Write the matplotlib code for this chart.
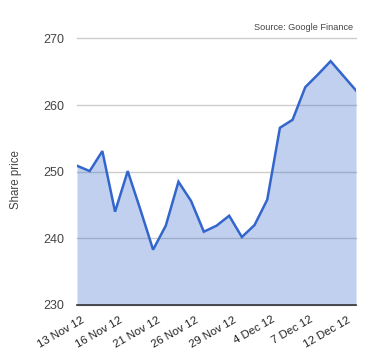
import matplotlib
matplotlib.use("Agg")
import matplotlib.pyplot as plt
import matplotlib.transforms as mtransforms

# share price, one value per trading day
prices = [250.9, 250.1, 253.1, 244.0, 250.1, 244.3, 238.3, 241.9, 248.5, 245.6,
          241.0, 241.9, 243.4, 240.2, 242.0, 245.8, 256.6, 257.8, 262.7, 264.6,
          266.6, 264.4, 262.2]
tick_labels = ["13 Nov 12", "16 Nov 12", "21 Nov 12", "26 Nov 12",
               "29 Nov 12", "4 Dec 12", "7 Dec 12", "12 Dec 12"]
label_step = 3
y_ticks = [230, 240, 250, 260, 270]

plt.rcParams['font.family'] = ['Liberation Sans', 'DejaVu Sans']

fig = plt.figure(figsize=(3.8, 3.6), dpi=100)
ax = fig.add_axes([77 / 380, 55 / 360, 279 / 380, 266.5 / 360])

x = list(range(len(prices)))
ax.fill_between(x, prices, 230, color='#3366cc', alpha=0.3, linewidth=0)
ax.plot(x, prices, color='#3366cc', linewidth=1.8, solid_joinstyle='miter')

ax.set_xlim(0, len(prices) - 1)
ax.set_ylim(230, 270)
ax.set_yticks(y_ticks)
ax.set_yticklabels([str(v) for v in y_ticks])
ax.set_axisbelow(True)
ax.yaxis.grid(True, color='#cccccc', linewidth=1)
for gl in ax.get_ygridlines():
    gl.set_clip_on(False)
ax.tick_params(axis='y', length=0, pad=9, labelsize=9, labelcolor='#444444')

ax.set_xticks(x[::label_step])
ax.set_xticklabels(tick_labels, rotation=30, ha='right', rotation_mode='anchor')
ax.tick_params(axis='x', length=0, pad=7, labelsize=8.2, labelcolor='#222222')
shift = mtransforms.ScaledTranslation(4 / 100, 0, fig.dpi_scale_trans)
for lbl in ax.get_xticklabels():
    lbl.set_transform(lbl.get_transform() + shift)

for side in ['top', 'right', 'left']:
    ax.spines[side].set_visible(False)
ax.spines['bottom'].set_color('#333333')
ax.spines['bottom'].set_linewidth(1.2)

fig.text(16 / 380, 0.5, "Share price", rotation=90, ha='center', va='center',
         fontsize=8.3, color='#444444')
fig.text(353 / 380, 1 - 28 / 360, "Source: Google Finance", ha='right', va='center',
         fontsize=6.6, color='#444444')

fig.savefig("out.png", dpi=100)
